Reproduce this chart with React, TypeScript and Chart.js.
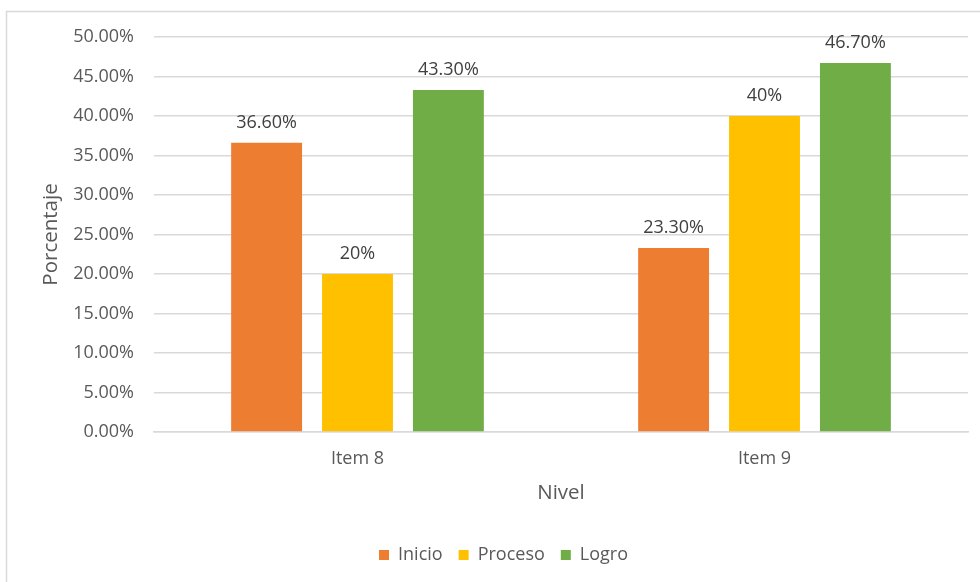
import React, { useEffect, useRef } from "react";
import { Chart, registerables } from "chart.js";

Chart.register(...registerables);

const categories = ["Item 8", "Item 9"];
const seriesNames = ["Inicio", "Proceso", "Logro"];
const inicio = [36.6, 23.3];
const proceso = [20, 40];
const logro = [43.3, 46.7];
const valueLabels = [
  ["36.60%", "23.30%"],
  ["20%", "40%"],
  ["43.30%", "46.70%"],
];
const colors = ["#ED7D31", "#FFC000", "#70AD47"];

const FONT = "'Open Sans', 'Noto Sans', sans-serif";
const TEXT = "#595959";

const frame = {
  id: "frame",
  beforeDraw(chart: any) {
    const ctx = chart.ctx;
    ctx.save();
    ctx.fillStyle = "#ffffff";
    ctx.fillRect(0, 0, chart.width, chart.height);
    ctx.strokeStyle = "#D9D9D9";
    ctx.lineWidth = 1.5;
    ctx.strokeRect(6.5, 11.5, chart.width + 20, chart.height + 20);
    ctx.restore();
  },
};

const dataLabels = {
  id: "dataLabels",
  afterDatasetsDraw(chart: any) {
    const ctx = chart.ctx;
    ctx.save();
    ctx.font = `18px ${FONT}`;
    ctx.fillStyle = "#404040";
    ctx.textAlign = "center";
    ctx.textBaseline = "alphabetic";
    chart.data.datasets.forEach((ds: any, i: number) => {
      const meta = chart.getDatasetMeta(i);
      meta.data.forEach((bar: any, j: number) => {
        ctx.fillText(valueLabels[i][j], bar.x, bar.y - 15);
      });
    });
    ctx.restore();
  },
};

export default function App() {
  const ref = useRef<HTMLCanvasElement>(null);
  useEffect(() => {
    document.body.style.margin = "0";
    const seriesData = [inicio, proceso, logro];
    const chart = new Chart(ref.current!, {
      type: "bar",
      data: {
        labels: categories,
        datasets: seriesNames.map((name, i) => ({
          label: name,
          data: seriesData[i],
          backgroundColor: colors[i],
          barPercentage: 0.78,
          categoryPercentage: 0.67,
        })),
      },
      options: {
        animation: false,
        responsive: false,
        devicePixelRatio: 1,
        layout: { padding: { left: 39, top: 37, right: 12, bottom: 8 } },
        plugins: {
          legend: {
            position: "bottom",
            labels: {
              font: { family: FONT, size: 18 },
              color: TEXT,
              boxWidth: 10,
              boxHeight: 10,
              padding: 16,
            },
          },
          tooltip: { enabled: false },
        },
        scales: {
          x: {
            grid: { display: false, drawTicks: false },
            border: { color: "#D9D9D9", width: 1.5 },
            ticks: { font: { family: FONT, size: 18 }, color: TEXT, padding: 16 },
            title: {
              display: true,
              text: "Nivel",
              font: { family: FONT, size: 20.5 },
              color: TEXT,
              padding: { top: 10, bottom: 25 },
            },
            afterFit(scale: any) {
              scale.height = 98;
            },
          },
          y: {
            min: 0,
            max: 50,
            ticks: {
              stepSize: 5,
              font: { family: FONT, size: 18 },
              color: TEXT,
              padding: 20,
              callback: (v: any) => Number(v).toFixed(2) + "%",
            },
            grid: { color: "#D9D9D9", lineWidth: 1.5, drawTicks: false },
            border: { display: false },
            title: {
              display: true,
              text: "Porcentaje",
              font: { family: FONT, size: 20.5 },
              color: TEXT,
              padding: { top: 0, bottom: 0 },
            },
            afterFit(scale: any) {
              scale.width = 115;
            },
          },
        },
      },
      plugins: [frame, dataLabels],
    });
    return () => chart.destroy();
  }, []);
  return <canvas ref={ref} width={980} height={582} style={{ display: "block" }} />;
}
